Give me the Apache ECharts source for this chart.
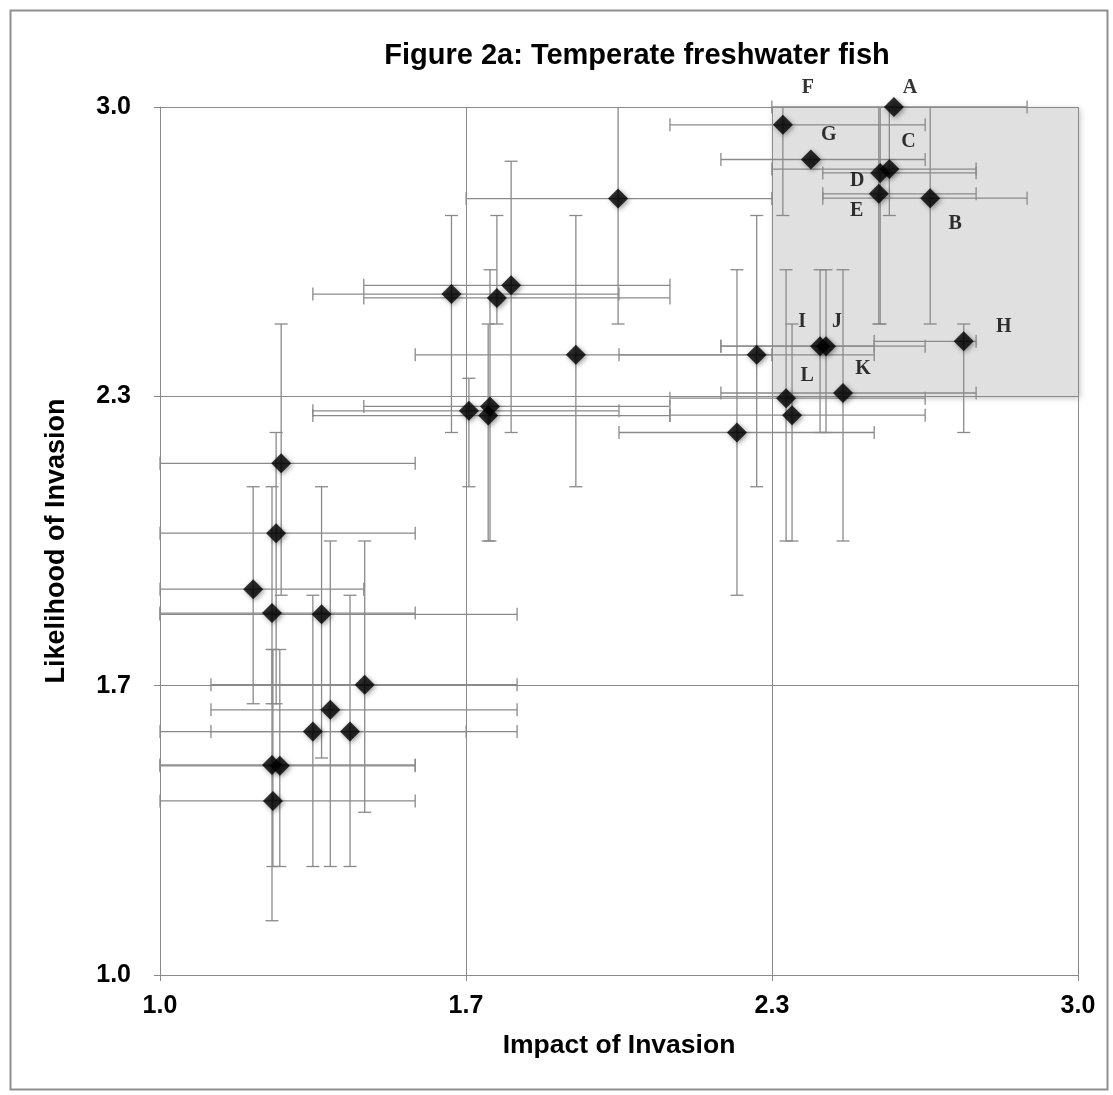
<!DOCTYPE html>
<html>
<head>
<meta charset="utf-8">
<script src="https://cdn.jsdelivr.net/npm/echarts@6/dist/echarts.min.js"></script>
<style>html,body{margin:0;padding:0;background:#fff}#chart{width:1113px;height:1095px}</style>
</head>
<body>
<div id="chart"></div>
<script>
// ---- data ----
const speciesLabels = ['A','F','G','C','D','E','B','H','I','J','L','K','M','N','P','', '', '', '', '', '', '', '', '', '', '', '', '', '', '', '', '', '', ''];
const impact = [2.599,2.357,2.418,2.589,2.569,2.566,2.678,2.751,2.438,2.451,2.364,2.488,2.377,2.257,2.300,
  1.998,1.906,1.635,1.734,1.765,1.673,1.719,1.715,
  1.264,1.253,1.203,1.244,1.352,1.446,1.371,1.333,1.414,1.244,1.261,1.246];
const likelihood = [3.0,2.959,2.879,2.857,2.848,2.800,2.790,2.460,2.449,2.449,2.329,2.341,2.290,2.250,2.429,
  2.789,2.429,2.569,2.560,2.589,2.300,2.310,2.289,
  2.179,2.018,1.889,1.834,1.831,1.669,1.611,1.561,1.561,1.484,1.482,1.401];
const impactLow = [2.333,2.111,2.222,2.333,2.444,2.444,2.444,2.556,2.222,2.222,2.111,2.222,2.111,2.0,2.0,
  1.667,1.556,1.333,1.444,1.444,1.333,1.444,1.333,
  1.0,1.0,1.0,1.0,1.0,1.111,1.111,1.0,1.111,1.0,1.0,1.0];
const impactHigh = [2.889,2.667,2.667,2.778,2.778,2.778,2.889,2.778,2.556,2.667,2.667,2.778,2.667,2.556,2.556,
  2.333,2.333,2.0,2.111,2.111,2.0,2.111,2.111,
  1.556,1.556,1.444,1.556,1.778,1.778,1.778,1.667,1.778,1.556,1.556,1.556];
const likelihoodLow = [3.0,2.75,2.879,2.75,2.5,2.5,2.5,2.25,2.25,2.25,2.0,2.0,2.0,1.875,2.125,
  2.5,2.125,2.25,2.5,2.25,2.125,2.0,2.0,
  1.875,1.625,1.625,1.625,1.5,1.375,1.25,1.25,1.25,1.125,1.25,1.25];
const likelihoodHigh = [3.0,3.0,2.879,3.0,3.0,3.0,3.0,2.5,2.625,2.625,2.625,2.625,2.5,2.625,2.75,
  3.0,2.75,2.75,2.75,2.875,2.375,2.625,2.5,
  2.5,2.25,2.125,2.125,2.125,2.0,2.0,1.875,1.875,1.75,1.75,1.75];
const highlightBox = [[7/3, 3.0], [3.0, 7/3]];
const titleText = 'Figure 2a: Temperate freshwater fish';
const xName = 'Impact of Invasion';
const yName = 'Likelihood of Invasion';

// ---- layout / style config ----
const labelOffsets = {
  F:[25,-37], A:[16,-19], G:[18,-25], C:[19,-27], D:[-23,8], E:[-22,17], B:[25,26],
  H:[40,-15], I:[-18,-24], J:[11,-24], L:[21,-22], K:[20,-24]
};
const shownLetters = 'ABCDEFGHIJKL';
const grey = '#8a8a8a';

const barData = impact.map((x,i)=>[x, likelihood[i], impactLow[i], impactHigh[i], likelihoodLow[i], likelihoodHigh[i]]);
const pointData = impact.map((x,i)=>{
  const n = speciesLabels[i] || '';
  const show = n !== '' && shownLetters.indexOf(n) >= 0;
  return {value:[x, likelihood[i]], name:n, label:{show:show, offset: show ? labelOffsets[n] : [0,0]}};
});

const chart = echarts.init(document.getElementById('chart'), null, {renderer:'canvas'});
const axisCommon = {
  type:'value', min:1, max:3, interval:2/3, z:1,
  axisLine:{show:true, lineStyle:{color:grey, width:1}},
  axisTick:{show:true, length:6, lineStyle:{color:grey}},
  splitLine:{show:true, lineStyle:{color:grey, width:1}},
  nameLocation:'middle',
  nameTextStyle:{fontFamily:'Liberation Sans', fontWeight:'bold', fontSize:26.5, color:'#000'},
  axisLabel:{fontFamily:'Liberation Sans', fontWeight:'bold', fontSize:25, color:'#000',
    formatter:v=>v.toFixed(1)}
};

chart.setOption({
  animation:false,
  backgroundColor:'#fff',
  grid:{left:160, right:35, top:107, bottom:120, containLabel:false},
  xAxis:Object.assign({}, axisCommon, {name:xName, nameGap:57,
    axisLabel:Object.assign({}, axisCommon.axisLabel, {margin:19})}),
  yAxis:Object.assign({}, axisCommon, {name:yName, nameGap:90,
    nameTextStyle:Object.assign({}, axisCommon.nameTextStyle, {fontSize:27}),
    axisLabel:Object.assign({}, axisCommon.axisLabel, {margin:29})}),
  graphic:[
    {type:'rect', left:8, top:8, z:100, silent:true,
     shape:{width:1097, height:1079}, style:{fill:null, stroke:'#8f8f8f', lineWidth:2}},
    {type:'text', x:637, y:56, z:100, silent:true,
     style:{text:titleText, textAlign:'center', textVerticalAlign:'middle',
       fontFamily:'Liberation Sans', fontWeight:'bold', fontSize:29, fill:'#000'}}
  ],
  series:[
    {type:'custom', z:0, silent:true, data:[[highlightBox[0][0], highlightBox[0][1], highlightBox[1][0], highlightBox[1][1]]],
     renderItem:(params, api)=>{
       const p1 = api.coord([api.value(0), api.value(1)]);
       const p2 = api.coord([api.value(2), api.value(3)]);
       return {type:'rect', shape:{x:p1[0], y:p1[1], width:p2[0]-p1[0], height:p2[1]-p1[1]},
         style:{fill:'#e0e0e0', shadowBlur:6, shadowColor:'rgba(0,0,0,0.25)', shadowOffsetX:2, shadowOffsetY:2}};
     }},
    {type:'custom', z:2, silent:true, data:barData,
     renderItem:(params, api)=>{
       const x=api.value(0), y=api.value(1), xl=api.value(2), xh=api.value(3), yl=api.value(4), yh=api.value(5);
       const st = {stroke:grey, lineWidth:1.3, fill:null};
       const cap = 6.5;
       const ch = [];
       if (xh > xl) {
         const a = api.coord([xl,y]), b = api.coord([xh,y]);
         ch.push({type:'line', shape:{x1:a[0], y1:a[1], x2:b[0], y2:b[1]}, style:st});
         ch.push({type:'line', shape:{x1:a[0], y1:a[1]-cap, x2:a[0], y2:a[1]+cap}, style:st});
         ch.push({type:'line', shape:{x1:b[0], y1:b[1]-cap, x2:b[0], y2:b[1]+cap}, style:st});
       }
       if (yh > yl) {
         const a = api.coord([x,yl]), b = api.coord([x,yh]);
         ch.push({type:'line', shape:{x1:a[0], y1:a[1], x2:b[0], y2:b[1]}, style:st});
         ch.push({type:'line', shape:{x1:a[0]-cap, y1:a[1], x2:a[0]+cap, y2:a[1]}, style:st});
         if (yh < 3) ch.push({type:'line', shape:{x1:b[0]-cap, y1:b[1], x2:b[0]+cap, y2:b[1]}, style:st});
       }
       return {type:'group', children:ch};
     }},
    {type:'scatter', z:3, symbol:'diamond', symbolSize:20, data:pointData,
     itemStyle:{color:'#000', shadowBlur:5, shadowColor:'rgba(0,0,0,0.5)', shadowOffsetX:1.5, shadowOffsetY:1.5},
     label:{position:'inside', formatter:p=>p.name, fontFamily:'Liberation Serif', fontWeight:'bold', fontSize:20, color:'#000'}}
  ]
});
</script>
</body>
</html>
